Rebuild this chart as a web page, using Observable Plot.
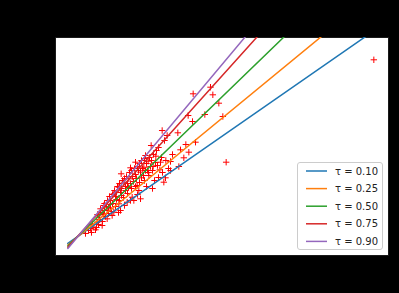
<!DOCTYPE html>
<html>
<head>
<meta charset="utf-8">
<script src="https://cdn.jsdelivr.net/npm/d3@7"></script>
<script src="https://cdn.jsdelivr.net/npm/@observablehq/plot@0.6"></script>
<style>
  html, body { margin: 0; padding: 0; background: #000; }
  #wrap { position: relative; width: 399px; height: 293px; background: #000; }
  #legend { position: absolute; left: 297px; top: 162px; }
</style>
</head>
<body>
<div id="wrap"></div>
<script>
// Quantile regression lines
const taus = [0.10, 0.25, 0.50, 0.75, 0.90];
const intercepts = [115, 71.7, 29.4, -14.8, -46];
const slopes = [0.4633, 0.548, 0.6447, 0.7407, 0.7953];
const colors = ["#1f77b4", "#ff7f0e", "#2ca02c", "#d62728", "#9467bd"];
const lineRange = [335, 4925];

// Observations (income, food expenditure)
const income = [4925, 2475, 2215, 2510, 2600, 2390, 2660, 2140, 2205, 1750,
  1985, 1825, 1585, 1785, 2105, 2025, 2250, 2150, 2075, 2710,
  1805, 1875, 2000, 1725, 1655, 1500, 1540, 1715, 1615, 1475,
  1350, 1275, 1135, 1425, 1550, 1635, 1800, 1775, 1440, 1375,
  1250, 1175, 1100, 1400, 1425, 1300, 1200, 1025, 975, 875,
  975, 1100, 1225, 850, 1000, 925, 800, 775, 725, 850,
  750, 1125, 1025, 925, 825, 1325,
  885, 930, 960, 1005, 1035, 1065, 1080, 1110, 1140, 1155,
  1185, 1215, 1230, 1260, 1290, 1305, 1335, 1350, 1380, 1395,
  1410, 1440, 1455, 1485, 1515, 1530, 1560, 1590, 1620, 1665,
  1695, 1470, 1320, 1245, 1140, 1065, 1005, 945, 885, 825,
  780, 810, 855, 900, 945, 990, 1050, 1110, 1170, 1230,
  1290, 1350, 1410, 1485, 1545, 1605, 1680, 1740, 1650, 1575,
  1500, 1365, 1275, 1200, 1125, 1050, 975, 915, 870, 705,
  675, 645, 795, 1095, 1185, 1275, 1380, 1515, 1605, 1695,
  1875, 1755, 1845, 1905, 600, 690, 765];
const foodexp = [2107, 1833, 1767, 1757, 1673, 1560, 1540, 1550, 1490, 1400,
  1377, 1350, 1250, 1300, 1260, 1207, 1283, 1183, 1127, 1083,
  1100, 1090, 1040, 1083, 1143, 1150, 1093, 1007, 1040, 1033,
  1083, 1027, 967, 983, 950, 900, 927, 883, 927, 850,
  917, 883, 833, 800, 717, 733, 800, 767, 700, 650,
  617, 667, 683, 567, 550, 517, 533, 483, 433, 450,
  407, 600, 583, 600, 617, 700,
  670, 700, 740, 760, 800, 780, 840, 870, 820, 900,
  920, 940, 870, 980, 1000, 940, 1020, 960, 1040, 1000,
  1070, 1100, 1020, 1120, 1070, 1000, 1130, 1100, 1160, 1200,
  1230, 950, 890, 830, 750, 710, 670, 630, 600, 580,
  560, 510, 490, 540, 570, 590, 640, 700, 730, 770,
  820, 840, 880, 900, 980, 1000, 1050, 1130, 1080, 1040,
  1000, 920, 870, 840, 780, 740, 660, 640, 560, 460,
  420, 400, 460, 580, 650, 700, 760, 840, 820, 930,
  1000, 980, 1020, 1160, 370, 380, 430];

const points = income.map((v, i) => ({income: v, foodexp: foodexp[i]}));
const lines = taus.flatMap((t, i) => lineRange.map(x => ({
  tau: t, income: x, foodexp: intercepts[i] + slopes[i] * x
})));

const plusSymbol = {
  draw(context, size) {
    const r = Math.sqrt(size / Math.PI);
    context.moveTo(-r, 0); context.lineTo(r, 0);
    context.moveTo(0, -r); context.lineTo(0, r);
  }
};

const chart = Plot.plot({
  width: 399,
  height: 293,
  marginLeft: 55,
  marginRight: 11,
  marginTop: 37,
  marginBottom: 38,
  style: {background: "#000", color: "#000", fontFamily: "DejaVu Sans", fontSize: "10px"},
  x: {domain: [150, 5145], label: null, ticks: [1000, 2000, 3000, 4000, 5000]},
  y: {domain: [150, 2330], label: null},
  color: {domain: taus, range: colors},
  marks: [
    Plot.frame({fill: "white", stroke: "#1a1a1a"}),
    Plot.dot(points, {x: "income", y: "foodexp", symbol: plusSymbol, r: 3.2, stroke: "red", strokeWidth: 1, fill: "none"}),
    Plot.line(lines, {x: "income", y: "foodexp", z: "tau", stroke: "tau", strokeWidth: 1.5, clip: true})
  ]
});

const wrap = document.getElementById("wrap");
wrap.appendChild(chart);

// Legend
const ns = "http://www.w3.org/2000/svg";
const lw = 86, lh = 88, rowH = 17.6;
const leg = document.createElementNS(ns, "svg");
leg.setAttribute("id", "legend");
leg.setAttribute("width", lw);
leg.setAttribute("height", lh);
const box = document.createElementNS(ns, "rect");
box.setAttribute("x", 0.5); box.setAttribute("y", 0.5);
box.setAttribute("width", lw - 1); box.setAttribute("height", lh - 1);
box.setAttribute("rx", 2.5);
box.setAttribute("fill", "rgba(255,255,255,0.8)");
box.setAttribute("stroke", "#cccccc");
leg.appendChild(box);
taus.forEach((t, i) => {
  const cy = 9 + i * rowH;
  const ln = document.createElementNS(ns, "line");
  ln.setAttribute("x1", 9); ln.setAttribute("x2", 30);
  ln.setAttribute("y1", cy); ln.setAttribute("y2", cy);
  ln.setAttribute("stroke", colors[i]);
  ln.setAttribute("stroke-width", 1.5);
  leg.appendChild(ln);
  const tx = document.createElementNS(ns, "text");
  tx.setAttribute("x", 38); tx.setAttribute("y", cy);
  tx.setAttribute("dy", "0.35em");
  tx.setAttribute("font-family", "DejaVu Sans");
  tx.setAttribute("font-size", 10);
  tx.setAttribute("fill", "#222");
  tx.textContent = "τ = " + t.toFixed(2);
  leg.appendChild(tx);
});
wrap.appendChild(leg);
</script>
</body>
</html>
